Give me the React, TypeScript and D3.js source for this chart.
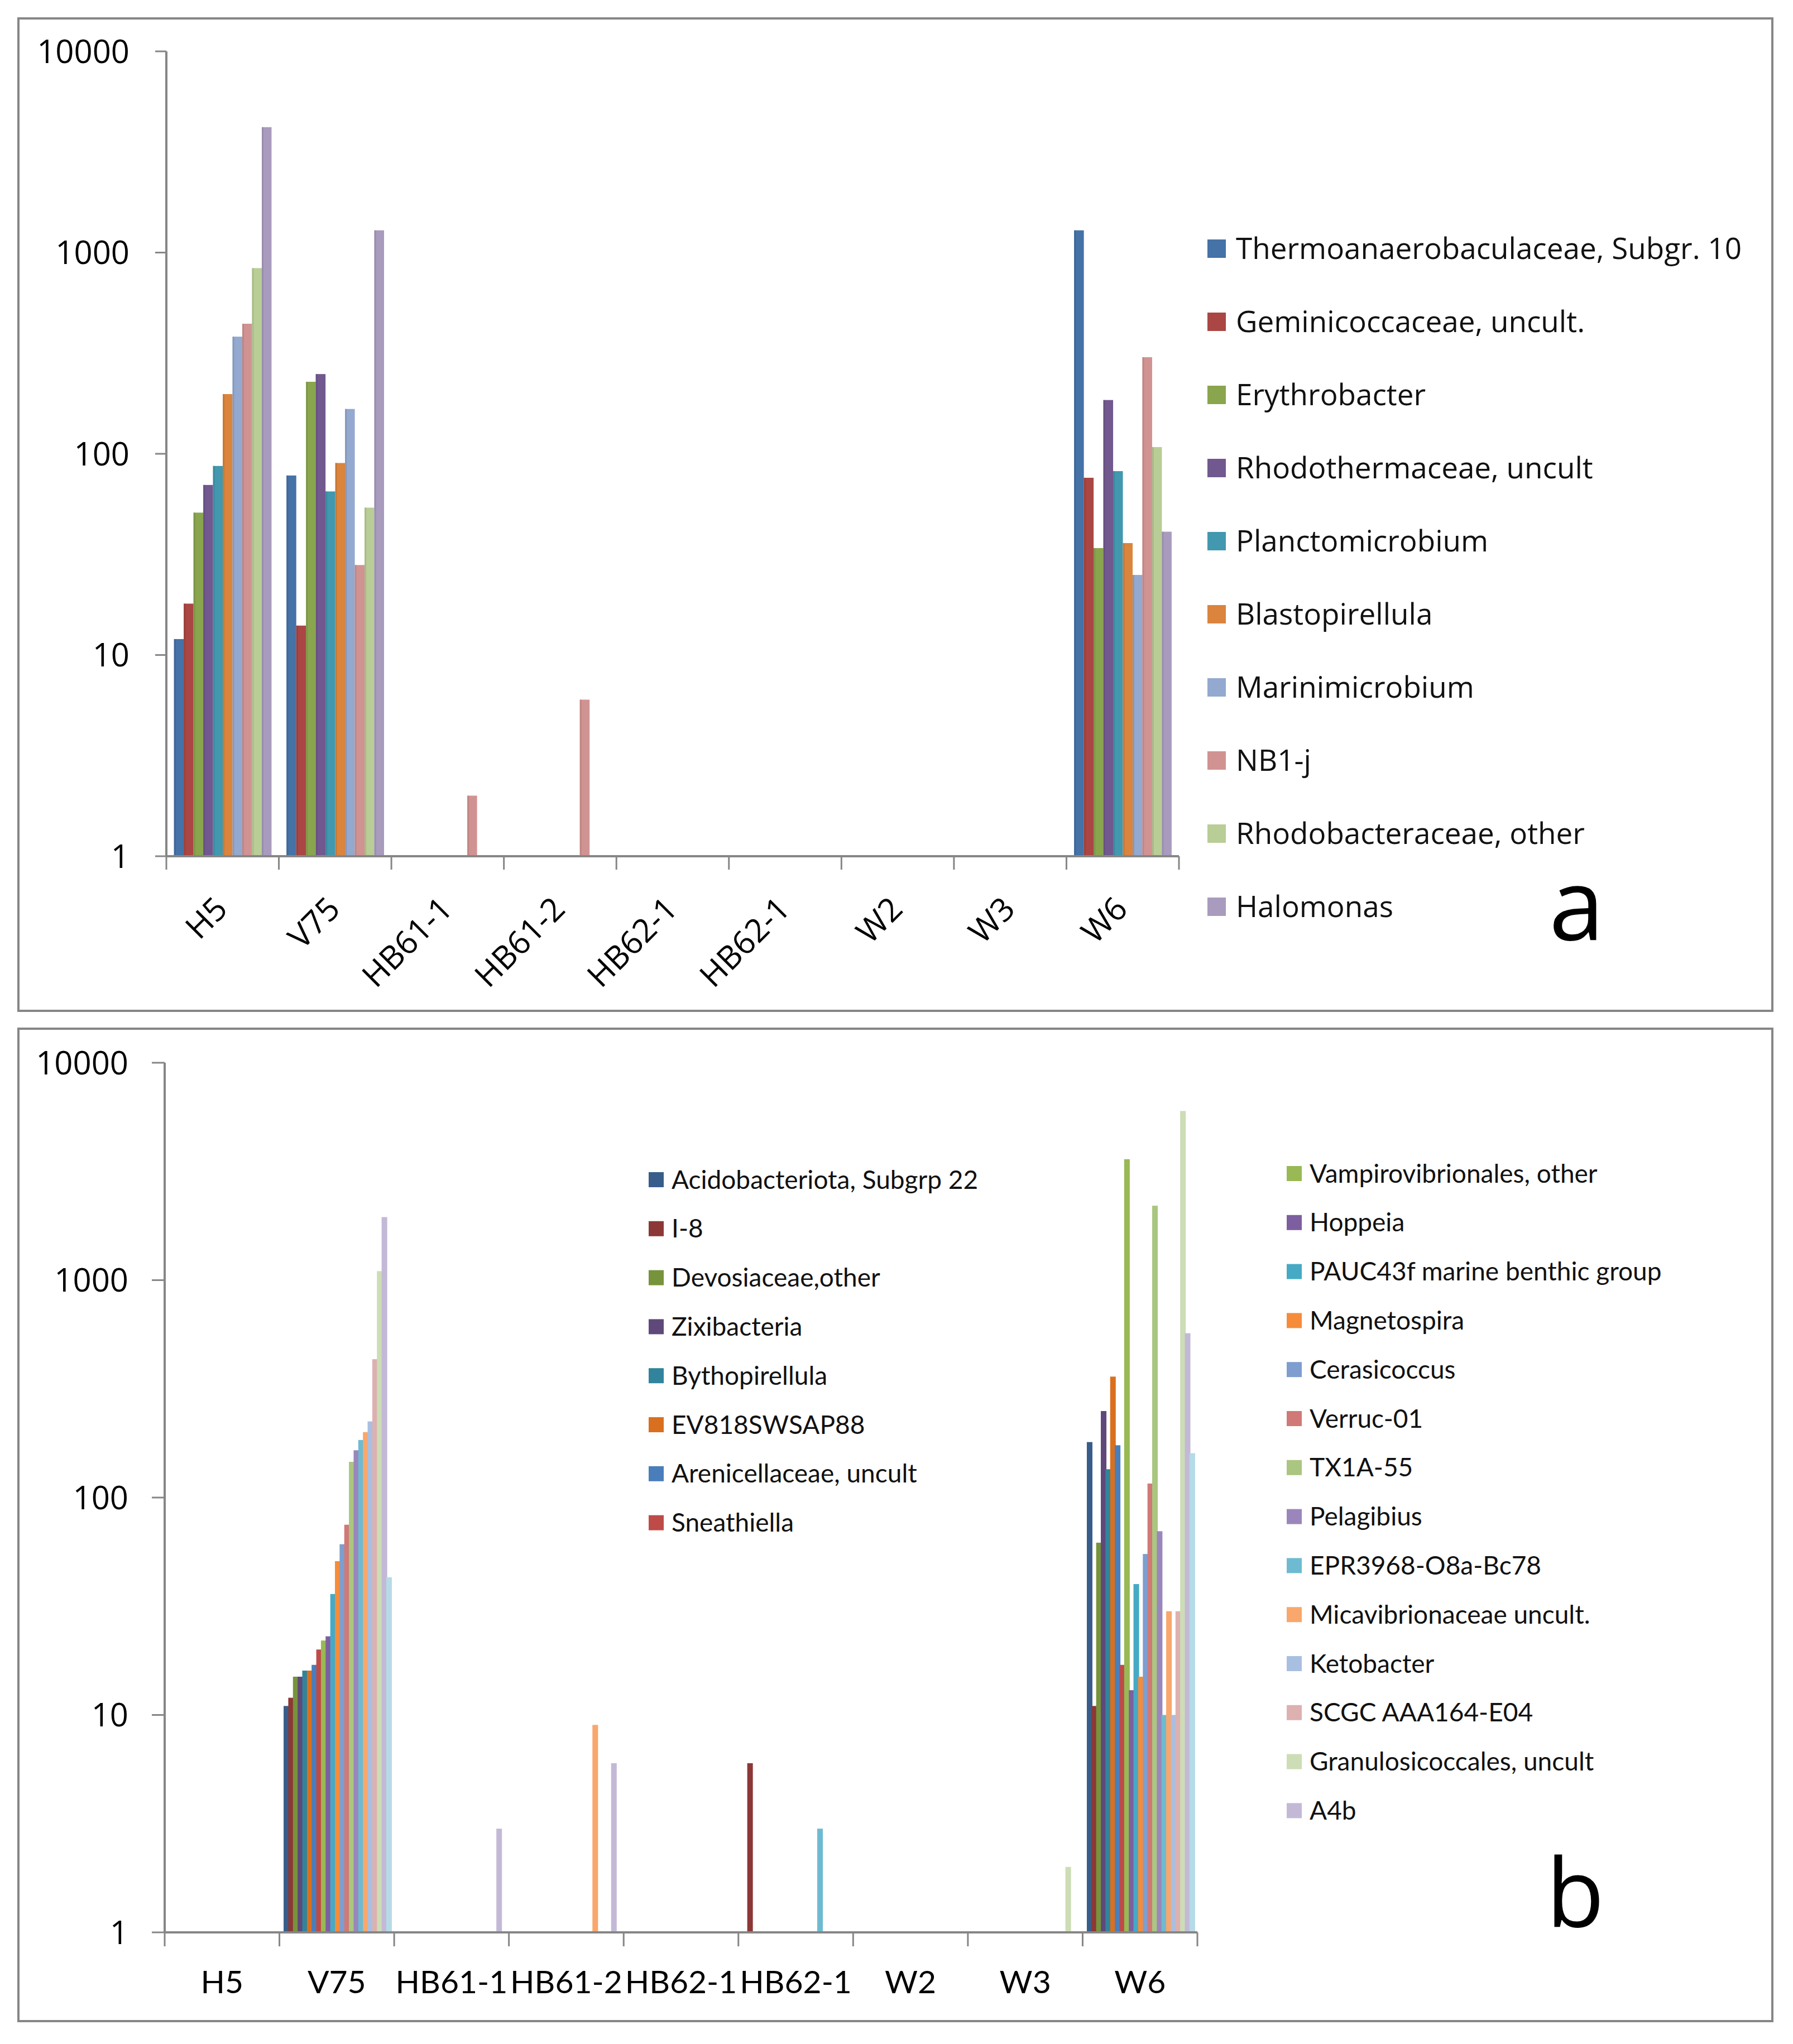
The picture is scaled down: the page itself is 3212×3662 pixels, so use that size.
import React, { useRef, useEffect } from 'react';
import * as d3 from 'd3';

// sample sites (same for both panels)
const CATEGORIES = ['H5', 'V75', 'HB61-1', 'HB61-2', 'HB62-1', 'HB62-1', 'W2', 'W3', 'W6'];
const Y_TICKS = [1, 10, 100, 1000, 10000];

// panel a
const SERIES_A = [
  'Thermoanaerobaculaceae, Subgr. 10',
  'Geminicoccaceae, uncult.',
  'Erythrobacter',
  'Rhodothermaceae, uncult',
  'Planctomicrobium',
  'Blastopirellula',
  'Marinimicrobium',
  'NB1-j',
  'Rhodobacteraceae, other',
  'Halomonas',
];
const COLORS_A = ['#4572A7', '#AA4643', '#89A54E', '#71588F', '#4198AF', '#DB843D', '#93A9CF', '#D19392', '#B9CD96', '#A99BBD'];
const VALUES_A = [
  [12, 78, 0, 0, 0, 0, 0, 0, 1290],
  [18, 14, 0, 0, 0, 0, 0, 0, 76],
  [51, 228, 0, 0, 0, 0, 0, 0, 34],
  [70, 249, 0, 0, 0, 0, 0, 0, 185],
  [87, 65, 0, 0, 0, 0, 0, 0, 82],
  [198, 90, 0, 0, 0, 0, 0, 0, 36],
  [382, 167, 0, 0, 0, 0, 0, 0, 25],
  [443, 28, 2, 6, 0, 0, 0, 0, 302],
  [837, 54, 0, 0, 0, 0, 0, 0, 108],
  [4200, 1290, 0, 0, 0, 0, 0, 0, 41],
];

// panel b (last series has no legend entry in the original)
const SERIES_B = [
  'Acidobacteriota, Subgrp 22',
  'I-8',
  'Devosiaceae,other',
  'Zixibacteria',
  'Bythopirellula',
  'EV818SWSAP88',
  'Arenicellaceae, uncult',
  'Sneathiella',
  'Vampirovibrionales, other',
  'Hoppeia',
  'PAUC43f marine benthic group',
  'Magnetospira',
  'Cerasicoccus',
  'Verruc-01',
  'TX1A-55',
  'Pelagibius',
  'EPR3968-O8a-Bc78',
  'Micavibrionaceae uncult.',
  'Ketobacter',
  'SCGC AAA164-E04',
  'Granulosicoccales, uncult',
  'A4b',
  '',
];
const COLORS_B = [
  '#385D8A', '#8C3836', '#77933C', '#5F497A', '#31849B', '#D9701F',
  '#4A7EBB', '#BE4B48', '#98B954', '#7D5FA0', '#46AAC5', '#F68C3A',
  '#7D9ECF', '#D07977', '#AAC681', '#9B86BC', '#6EBBD1', '#F9A76C',
  '#A9BFE1', '#DDB1B0', '#CDDDB6', '#C3B9D7', '#B5DBE6',
];
const VALUES_B = [
  [0, 11, 0, 0, 0, 0, 0, 0, 180],
  [0, 12, 0, 0, 0, 6, 0, 0, 11],
  [0, 15, 0, 0, 0, 0, 0, 0, 62],
  [0, 15, 0, 0, 0, 0, 0, 0, 250],
  [0, 16, 0, 0, 0, 0, 0, 0, 135],
  [0, 16, 0, 0, 0, 0, 0, 0, 360],
  [0, 17, 0, 0, 0, 0, 0, 0, 174],
  [0, 20, 0, 0, 0, 0, 0, 0, 17],
  [0, 22, 0, 0, 0, 0, 0, 0, 3600],
  [0, 23, 0, 0, 0, 0, 0, 0, 13],
  [0, 36, 0, 0, 0, 0, 0, 0, 40],
  [0, 51, 0, 0, 0, 0, 0, 0, 15],
  [0, 61, 0, 0, 0, 0, 0, 0, 55],
  [0, 75, 0, 0, 0, 0, 0, 0, 116],
  [0, 146, 0, 0, 0, 0, 0, 0, 2200],
  [0, 165, 0, 0, 0, 0, 0, 0, 70],
  [0, 184, 0, 0, 0, 3, 0, 0, 10],
  [0, 200, 0, 9, 0, 0, 0, 0, 30],
  [0, 224, 0, 0, 0, 0, 0, 0, 10],
  [0, 433, 0, 0, 0, 0, 0, 0, 30],
  [0, 1100, 0, 0, 0, 0, 0, 2, 6000],
  [0, 1950, 3, 6, 0, 0, 0, 0, 570],
  [0, 43, 0, 0, 0, 0, 0, 0, 160],
];

const AXIS = '#868686';
const SANS_A = "'Open Sans', 'Noto Sans', sans-serif";
const SANS_B = "Lato, 'Open Sans', sans-serif";

export default function App() {
  const svgRef = useRef<SVGSVGElement>(null);

  useEffect(() => {
    if (!svgRef.current) return;
    const svg = d3.select(svgRef.current);
    svg.selectAll('*').remove();

    svg.append('rect').attr('width', 3212).attr('height', 3662).attr('fill', '#fff');

    // frames
    [[33, 33, 3142, 1778], [33, 1843, 3142, 1778]].forEach(([x, y, w, h]) => {
      svg.append('rect')
        .attr('x', x).attr('y', y).attr('width', w).attr('height', h)
        .attr('fill', 'none').attr('stroke', AXIS).attr('stroke-width', 4);
    });

    // ---------- panel a ----------
    const ga = svg.append('g');
    const x0a = d3.scaleBand<number>().domain(d3.range(CATEGORIES.length)).range([298, 2112]);
    const bwA = x0a.bandwidth();
    const xsA = d3.scaleBand<number>().domain(d3.range(SERIES_A.length)).range([bwA * 0.068, bwA * 0.935]);
    const ya = d3.scaleLog().domain([1, 10000]).range([1534, 92]);

    SERIES_A.forEach((_, si) => {
      const c = COLORS_A[si];
      const dark = d3.color(c)!.darker(0.45).formatHex();
      VALUES_A[si].forEach((v, ci) => {
        if (v <= 1) return;
        const x = x0a(ci)! + xsA(si)!;
        ga.append('rect')
          .attr('x', x).attr('y', ya(v))
          .attr('width', xsA.bandwidth()).attr('height', ya(1) - ya(v))
          .attr('fill', c);
        ga.append('rect')
          .attr('x', x).attr('y', ya(v))
          .attr('width', 3).attr('height', ya(1) - ya(v))
          .attr('fill', dark).attr('opacity', 0.6);
      });
    });

    // y axis a
    ga.append('line').attr('x1', 298).attr('x2', 298).attr('y1', ya(10000)).attr('y2', ya(1))
      .attr('stroke', AXIS).attr('stroke-width', 4);
    Y_TICKS.forEach((t) => {
      ga.append('line').attr('x1', 278).attr('x2', 298).attr('y1', ya(t)).attr('y2', ya(t))
        .attr('stroke', AXIS).attr('stroke-width', 3);
      ga.append('text').attr('x', 232).attr('y', ya(t)).attr('dy', '0.36em')
        .attr('text-anchor', 'end').attr('font-family', SANS_A).attr('font-size', 58)
        .text(d3.format('d')(t));
    });

    // x axis a
    ga.append('line').attr('x1', 298).attr('x2', 2112).attr('y1', ya(1)).attr('y2', ya(1))
      .attr('stroke', AXIS).attr('stroke-width', 4);
    d3.range(CATEGORIES.length + 1).forEach((i) => {
      const x = 298 + i * bwA;
      ga.append('line').attr('x1', x).attr('x2', x).attr('y1', ya(1)).attr('y2', ya(1) + 24)
        .attr('stroke', AXIS).attr('stroke-width', 3);
    });
    CATEGORIES.forEach((c, i) => {
      const cx = x0a(i)! + bwA / 2 + 12;
      const cy = ya(1) + 98;
      ga.append('text')
        .attr('transform', `translate(${cx},${cy}) rotate(-45)`)
        .attr('text-anchor', 'end').attr('font-family', SANS_A).attr('font-size', 58)
        .text(c);
    });

    // legend a
    SERIES_A.forEach((s, i) => {
      const y = 445 + i * 131;
      ga.append('rect').attr('x', 2163).attr('y', y - 16).attr('width', 33).attr('height', 33)
        .attr('fill', COLORS_A[i]);
      ga.append('text').attr('x', 2214).attr('y', y).attr('dy', '0.36em')
        .attr('font-family', SANS_A).attr('font-size', 53).attr('fill', '#111')
        .text(s);
    });
    ga.append('text').attr('x', 2775).attr('y', 1684)
      .attr('font-family', SANS_A).attr('font-size', 178).text('a');

    // ---------- panel b ----------
    const gb = svg.append('g');
    const x0b = d3.scaleBand<number>().domain(d3.range(CATEGORIES.length)).range([295, 2145]);
    const bwB = x0b.bandwidth();
    const xsB = d3.scaleBand<number>().domain(d3.range(SERIES_B.length)).range([7.5, 7.5 + 23 * 8.36]);
    const yb = d3.scaleLog().domain([1, 10000]).range([3462, 1904]);
    const barW = xsB.bandwidth() * 1.2;

    SERIES_B.forEach((_, si) => {
      VALUES_B[si].forEach((v, ci) => {
        if (v <= 1) return;
        gb.append('rect')
          .attr('x', x0b(ci)! + xsB(si)!).attr('y', yb(v))
          .attr('width', barW).attr('height', yb(1) - yb(v))
          .attr('fill', COLORS_B[si]);
      });
    });

    gb.append('line').attr('x1', 295).attr('x2', 295).attr('y1', yb(10000)).attr('y2', yb(1))
      .attr('stroke', AXIS).attr('stroke-width', 4);
    Y_TICKS.forEach((t) => {
      gb.append('line').attr('x1', 272).attr('x2', 295).attr('y1', yb(t)).attr('y2', yb(t))
        .attr('stroke', AXIS).attr('stroke-width', 3);
      gb.append('text').attr('x', 230).attr('y', yb(t)).attr('dy', '0.36em')
        .attr('text-anchor', 'end').attr('font-family', SANS_A).attr('font-size', 58)
        .text(d3.format('d')(t));
    });

    gb.append('line').attr('x1', 295).attr('x2', 2145).attr('y1', yb(1)).attr('y2', yb(1))
      .attr('stroke', AXIS).attr('stroke-width', 4);
    d3.range(CATEGORIES.length + 1).forEach((i) => {
      const x = 295 + i * bwB;
      gb.append('line').attr('x1', x).attr('x2', x).attr('y1', yb(1)).attr('y2', yb(1) + 25)
        .attr('stroke', AXIS).attr('stroke-width', 3);
    });
    CATEGORIES.forEach((c, i) => {
      gb.append('text')
        .attr('x', x0b(i)! + bwB / 2).attr('y', 3571)
        .attr('text-anchor', 'middle').attr('font-family', SANS_B).attr('font-size', 57)
        .text(c);
    });

    // legend b, two columns (8 + 14)
    SERIES_B.forEach((s, i) => {
      if (!s) return;
      const col = i < 8 ? 0 : 1;
      const row = col === 0 ? i : i - 8;
      const sx = col === 0 ? 1162 : 2305;
      const y = (col === 0 ? 2113 : 2102) + row * 87.8;
      gb.append('rect').attr('x', sx).attr('y', y - 13).attr('width', 27).attr('height', 27)
        .attr('fill', COLORS_B[i]);
      gb.append('text').attr('x', sx + 41).attr('y', y).attr('dy', '0.36em')
        .attr('font-family', SANS_B).attr('font-size', 46).attr('fill', '#111')
        .text(s);
    });
    gb.append('text').attr('x', 2770).attr('y', 3452)
      .attr('font-family', SANS_A).attr('font-size', 170).text('b');
  }, []);

  return (
    <svg
      ref={svgRef}
      width={3212}
      height={3662}
      style={{ position: 'absolute', left: 0, top: 0, display: 'block' }}
    />
  );
}
